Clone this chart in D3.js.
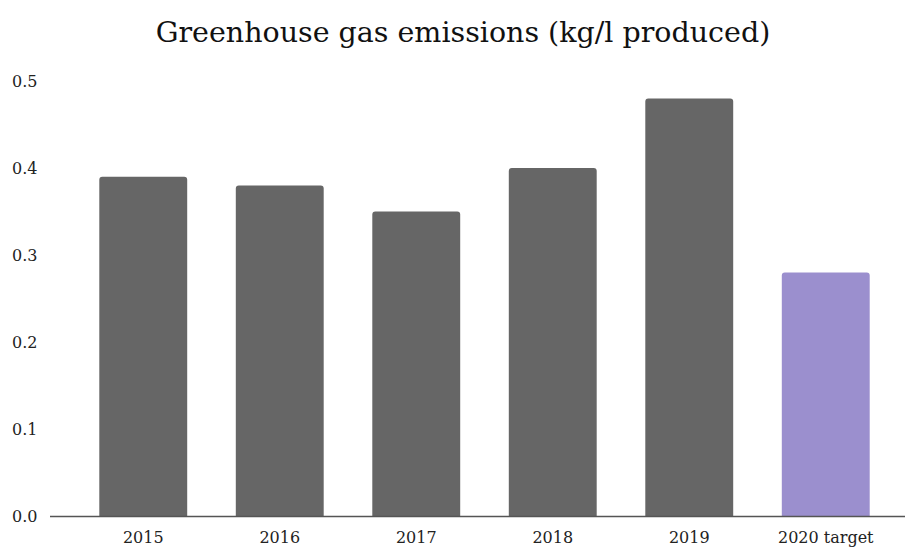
<!DOCTYPE html>
<html>
<head>
<meta charset="utf-8">
<script src="https://cdn.jsdelivr.net/npm/d3@7"></script>
<style>
  html, body { margin: 0; padding: 0; background: #ffffff; }
  svg { display: block; font-family: "DejaVu Serif", "Liberation Serif", serif; }
</style>
</head>
<body>
<svg id="chart" width="905" height="548"></svg>
<script>
// Greenhouse gas emissions per litre produced, by year
const categories = ["2015", "2016", "2017", "2018", "2019", "2020 target"];
const emissions = [0.39, 0.38, 0.35, 0.40, 0.48, 0.28];
const yTicks = [0.0, 0.1, 0.2, 0.3, 0.4, 0.5];
const title = "Greenhouse gas emissions (kg/l produced)";

const width = 905, height = 548;
const margin = { top: 81, right: 11, bottom: 32, left: 75 };
const svg = d3.select("#chart");

const x = d3.scaleBand()
  .domain(categories)
  .range([margin.left, width - margin.right])
  .paddingInner(0.356)
  .paddingOuter(0.178);

const y = d3.scaleLinear()
  .domain([0, 0.5])
  .range([height - margin.bottom, margin.top]);

// title
svg.append("text")
  .attr("x", 463)
  .attr("y", 42)
  .attr("text-anchor", "middle")
  .attr("font-size", 28.5)
  .attr("fill", "#111")
  .text(title);

// y tick labels (no tick lines, no gridlines)
svg.append("g")
  .selectAll("text")
  .data(yTicks)
  .join("text")
  .attr("x", 12)
  .attr("y", d => y(d))
  .attr("dy", "0.35em")
  .attr("font-size", 16)
  .attr("fill", "#222")
  .text(d => d3.format(".1f")(d));

// bars with softly rounded top corners
function topRounded(x0, y0, w, h, r) {
  r = Math.min(r, h, w / 2);
  return `M${x0},${y0 + h}V${y0 + r}Q${x0},${y0} ${x0 + r},${y0}` +
         `H${x0 + w - r}Q${x0 + w},${y0} ${x0 + w},${y0 + r}V${y0 + h}Z`;
}

svg.append("g")
  .selectAll("path")
  .data(categories.map((c, i) => ({ c, v: emissions[i] })))
  .join("path")
  .attr("d", d => topRounded(x(d.c), y(d.v), x.bandwidth(), y(0) - y(d.v), 3))
  .attr("fill", d => d.c === "2020 target" ? "#9b8fce" : "#666666");

// x axis baseline
svg.append("line")
  .attr("x1", 50)
  .attr("x2", width)
  .attr("y1", y(0) + 0.5)
  .attr("y2", y(0) + 0.5)
  .attr("stroke", "#555")
  .attr("stroke-width", 1.5);

// x labels
svg.append("g")
  .selectAll("text")
  .data(categories)
  .join("text")
  .attr("x", d => x(d) + x.bandwidth() / 2)
  .attr("y", y(0) + 27)
  .attr("text-anchor", "middle")
  .attr("font-size", 16)
  .attr("fill", "#222")
  .text(d => d);
</script>
</body>
</html>
